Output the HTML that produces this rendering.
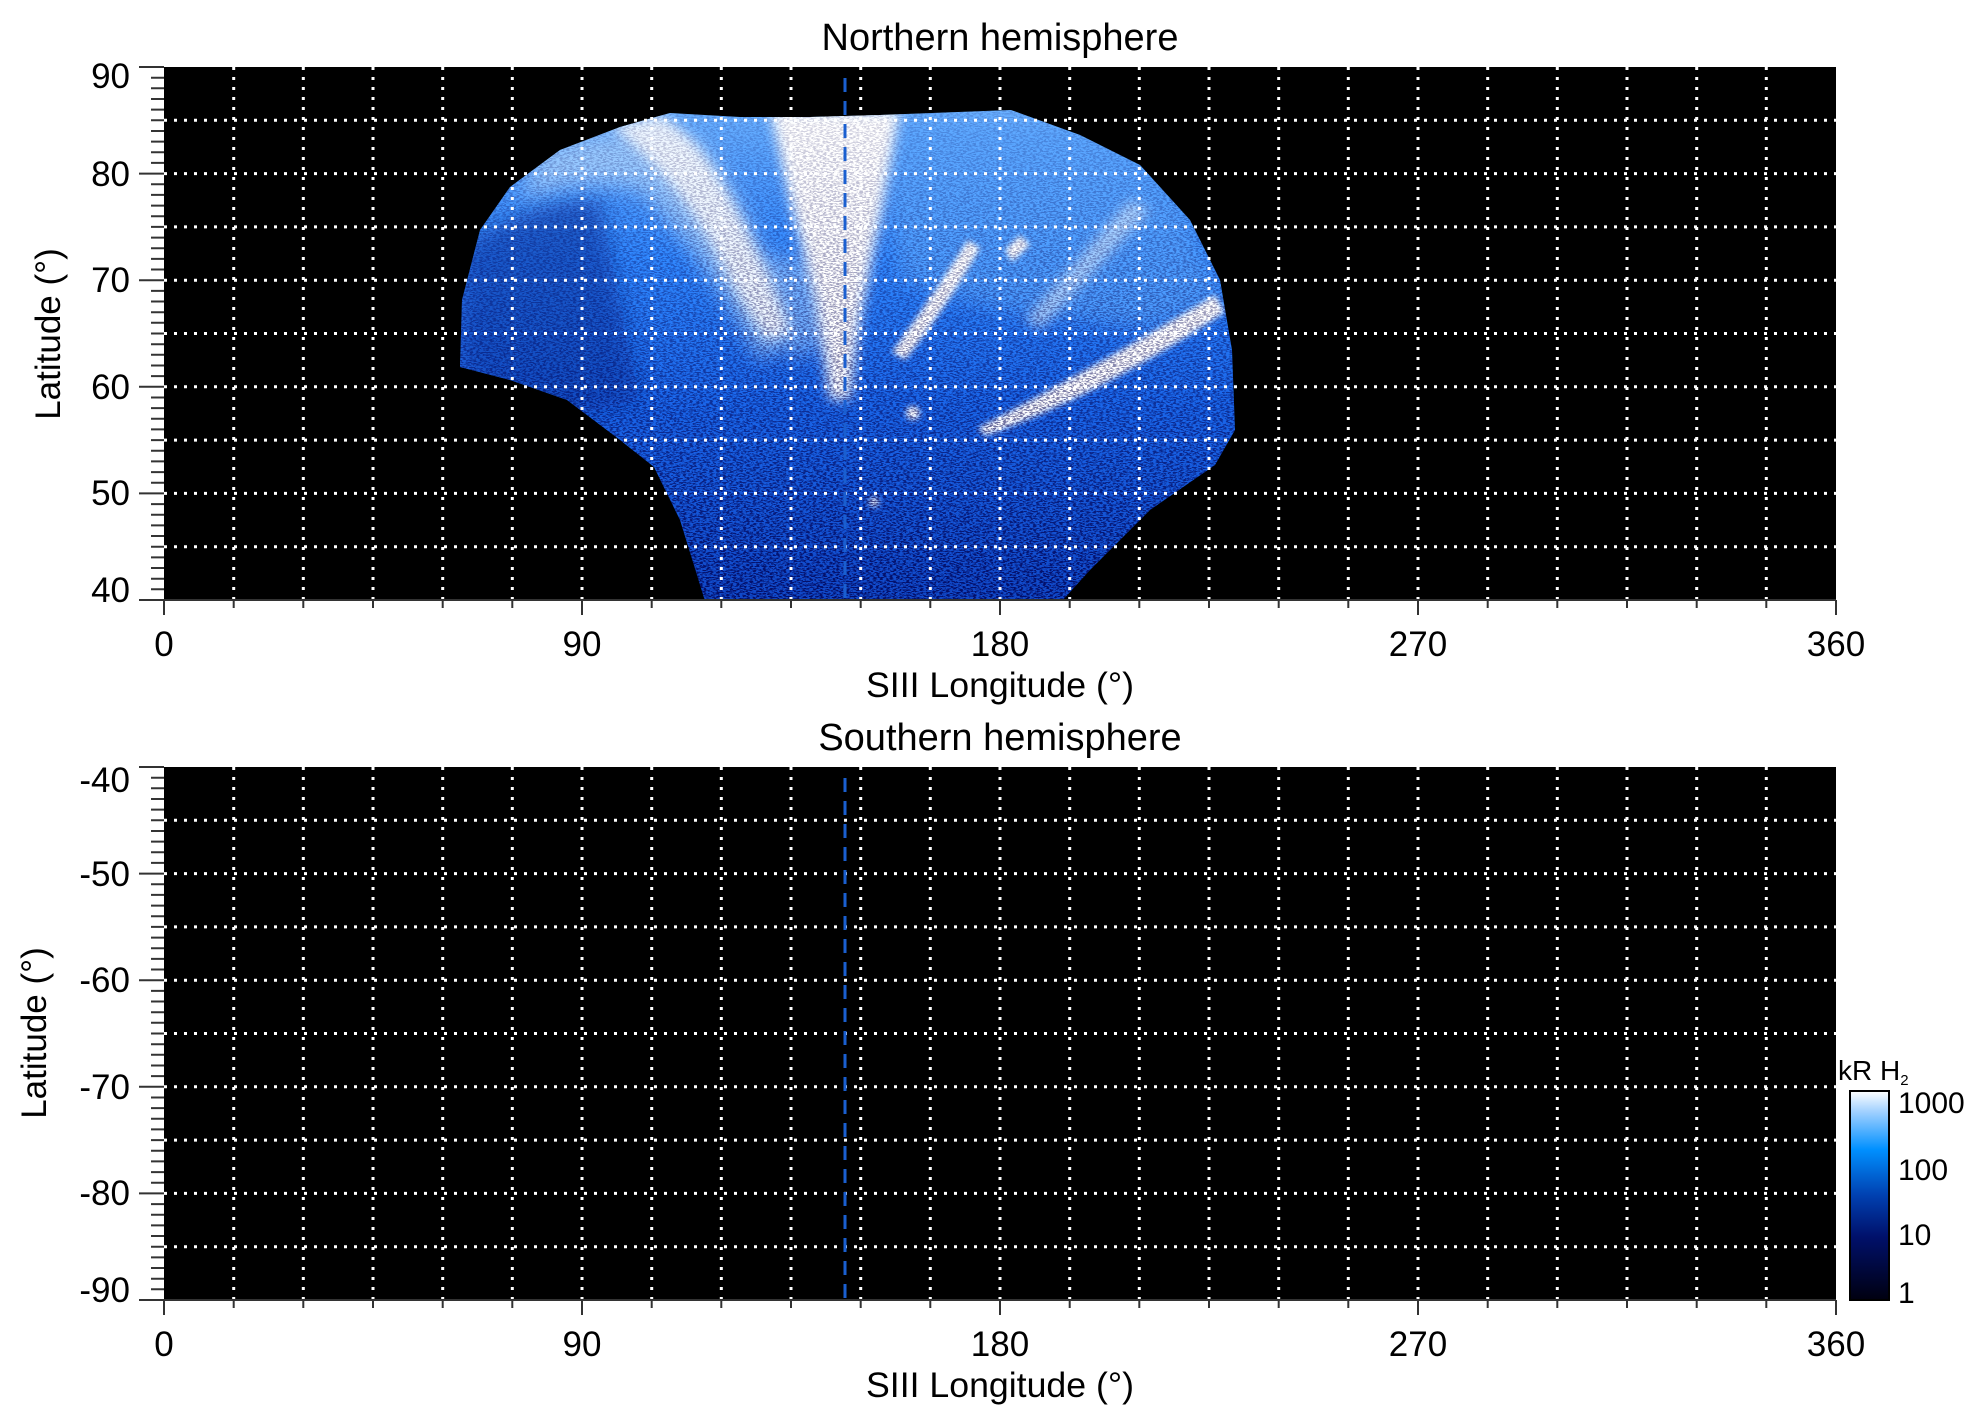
<!DOCTYPE html>
<html><head><meta charset="utf-8"><style>
html,body{margin:0;padding:0;background:#fff}
svg{display:block}
text{font-family:"Liberation Sans",Arial,sans-serif;fill:#000}
</style></head><body>
<svg width="1983" height="1423" viewBox="0 0 1983 1423" xmlns="http://www.w3.org/2000/svg">
<defs>
<linearGradient id="cb" x1="0" y1="1" x2="0" y2="0">
<stop offset="0" stop-color="#000010"/>
<stop offset="0.3" stop-color="#00106a"/>
<stop offset="0.5" stop-color="#0040b0"/>
<stop offset="0.72" stop-color="#0090ff"/>
<stop offset="0.9" stop-color="#a0d0ff"/>
<stop offset="1" stop-color="#ffffff"/>
</linearGradient>
<linearGradient id="aur" x1="0" y1="110" x2="0" y2="600" gradientUnits="userSpaceOnUse">
<stop offset="0" stop-color="#6ab0ff"/>
<stop offset="0.3" stop-color="#3088ff"/>
<stop offset="0.6" stop-color="#1a66ea"/>
<stop offset="1" stop-color="#1048c8"/>
</linearGradient>
<linearGradient id="nm" x1="0" y1="110" x2="0" y2="600" gradientUnits="userSpaceOnUse">
<stop offset="0" stop-color="#fff" stop-opacity="0.15"/>
<stop offset="0.5" stop-color="#fff" stop-opacity="0.45"/>
<stop offset="1" stop-color="#fff" stop-opacity="0.8"/>
</linearGradient>
<mask id="noiseMask"><rect x="0" y="0" width="1983" height="700" fill="url(#nm)"/></mask>
<filter id="noise" x="0" y="0" width="100%" height="100%">
<feTurbulence type="fractalNoise" baseFrequency="0.3 0.8" numOctaves="2" seed="3"/>
<feColorMatrix type="matrix" values="0 0 0 0 0  0 0 0 0 0  0 0 0 0 0.08  0 0 0 -9 4.8"/>
</filter>
<filter id="blur10"><feGaussianBlur stdDeviation="10"/></filter>
<filter id="blur6"><feGaussianBlur stdDeviation="6"/></filter>
<filter id="blur3"><feGaussianBlur stdDeviation="3"/></filter>
<clipPath id="ap"><polygon points="460,367 462,300 480,230 510,187 560,150 620,127 670,113 740,117 810,117 880,115 1011,110 1080,135 1140,165 1190,220 1220,280 1232,350 1235,430 1215,465 1150,510 1090,570 1062,601 705,601 680,520 654,467 620,440 567,400 510,380"/></clipPath>
<clipPath id="p1"><rect x="164" y="67" width="1672" height="533"/></clipPath>
</defs>

<rect x="164" y="67" width="1672" height="533" fill="#000"/>
<g clip-path="url(#p1)">
<g clip-path="url(#ap)">
<rect x="440" y="100" width="820" height="510" fill="url(#aur)"/>
<path d="M460,250 Q520,200 600,200 L640,400 L560,420 L460,370 Z" fill="#0c3aa8" opacity="0.6" filter="url(#blur10)"/>
<g filter="url(#blur10)">
<path d="M880,120 L1080,130 L1180,200 L1225,300 L1150,330 L1000,310 L900,280 Z" fill="#5aa5ff" opacity="0.7"/>
<path d="M540,150 Q620,120 700,140 Q760,220 790,340 L760,360 Q700,250 640,190 Q580,175 520,200 Z" fill="#a8d2ff" opacity="0.8"/>
<path d="M720,250 Q760,330 800,360 L840,330 L820,260 Z" fill="#9ccaff" opacity="0.6"/>
</g>
<g filter="url(#blur6)" fill="#fff">
<path d="M770,110 L900,110 L880,220 L860,320 L850,400 L830,400 L815,300 L790,200 Z"/>
<path d="M610,125 Q680,180 720,260 Q750,320 770,340 L790,330 Q760,250 720,180 Q690,130 660,115 Z" opacity="0.85"/>
<path d="M1130,200 L1150,210 L1040,330 L1025,320 Z" fill="#cfe6ff" opacity="0.7"/>
</g>
<g filter="url(#blur3)" fill="#fff">
<path d="M978,428 Q1090,370 1215,295 L1225,312 Q1100,395 985,436 Z"/>
<path d="M892,352 Q930,300 968,240 L980,248 Q945,310 905,360 Z"/>
<circle cx="913" cy="413" r="7"/>
<circle cx="874" cy="502" r="5"/>
<path d="M1005,250 L1020,235 L1030,245 L1012,262 Z"/>
</g>
<rect x="440" y="100" width="820" height="510" filter="url(#noise)" mask="url(#noiseMask)"/>
</g>
</g>
<g stroke="#fff" stroke-width="3" stroke-dasharray="3 7" fill="none">
<path d="M164,120.3H1836M164,173.6H1836M164,226.9H1836M164,280.2H1836M164,333.5H1836M164,386.8H1836M164,440.1H1836M164,493.4H1836M164,546.7H1836"/>
<path d="M233.7,67V600M303.3,67V600M373,67V600M442.7,67V600M512.3,67V600M582,67V600M651.7,67V600M721.3,67V600M791,67V600M860.7,67V600M930.3,67V600M1000,67V600M1069.7,67V600M1139.3,67V600M1209,67V600M1278.7,67V600M1348.3,67V600M1418,67V600M1487.7,67V600M1557.3,67V600M1627,67V600M1696.7,67V600M1766.3,67V600"/>
</g>
<line x1="845" y1="78" x2="845" y2="600" stroke="#1a5fd0" stroke-width="3" stroke-dasharray="14 9"/>

<rect x="164" y="767" width="1672" height="533" fill="#000"/>
<g stroke="#fff" stroke-width="3" stroke-dasharray="3 7" fill="none">
<path d="M164,820.3H1836M164,873.6H1836M164,926.9H1836M164,980.2H1836M164,1033.5H1836M164,1086.8H1836M164,1140.1H1836M164,1193.4H1836M164,1246.7H1836"/>
<path d="M233.7,767V1300M303.3,767V1300M373,767V1300M442.7,767V1300M512.3,767V1300M582,767V1300M651.7,767V1300M721.3,767V1300M791,767V1300M860.7,767V1300M930.3,767V1300M1000,767V1300M1069.7,767V1300M1139.3,767V1300M1209,767V1300M1278.7,767V1300M1348.3,767V1300M1418,767V1300M1487.7,767V1300M1557.3,767V1300M1627,767V1300M1696.7,767V1300M1766.3,767V1300"/>
</g>
<line x1="845" y1="778" x2="845" y2="1300" stroke="#1a5fd0" stroke-width="3" stroke-dasharray="14 9"/>

<g stroke="#333" stroke-width="2" fill="none" id="ticks">
<path d="M139,67H164M139,173.6H164M139,280.2H164M139,386.8H164M139,493.4H164M139,600H164"/>
<path d="M151,77.7H164M151,88.3H164M151,99H164M151,109.6H164M151,120.3H164M151,131H164M151,141.6H164M151,152.3H164M151,162.9H164M151,184.3H164M151,194.9H164M151,205.6H164M151,216.2H164M151,226.9H164M151,237.6H164M151,248.2H164M151,258.9H164M151,269.5H164M151,290.9H164M151,301.5H164M151,312.2H164M151,322.8H164M151,333.5H164M151,344.2H164M151,354.8H164M151,365.5H164M151,376.1H164M151,397.5H164M151,408.1H164M151,418.8H164M151,429.4H164M151,440.1H164M151,450.8H164M151,461.4H164M151,472.1H164M151,482.7H164M151,504.1H164M151,514.7H164M151,525.4H164M151,536H164M151,546.7H164M151,557.4H164M151,568H164M151,578.7H164M151,589.3H164"/>
<path d="M164,600H1836"/>
<path d="M164,600V615M582,600V615M1000,600V615M1418,600V615M1836,600V615M233.7,600V608M303.3,600V608M373,600V608M442.7,600V608M512.3,600V608M651.7,600V608M721.3,600V608M791,600V608M860.7,600V608M930.3,600V608M1069.7,600V608M1139.3,600V608M1209,600V608M1278.7,600V608M1348.3,600V608M1487.7,600V608M1557.3,600V608M1627,600V608M1696.7,600V608M1766.3,600V608"/>
</g>
<use href="#ticks" transform="translate(0,700)"/>

<g font-size="35" text-anchor="end">
<text x="130" y="88">90</text><text x="130" y="186">80</text><text x="130" y="292">70</text><text x="130" y="399">60</text><text x="130" y="505">50</text><text x="130" y="602">40</text>
<text x="130" y="792">-40</text><text x="130" y="886">-50</text><text x="130" y="992">-60</text><text x="130" y="1099">-70</text><text x="130" y="1205">-80</text><text x="130" y="1302">-90</text>
</g>
<g font-size="35" text-anchor="middle">
<text x="164" y="656">0</text><text x="582" y="656">90</text><text x="1000" y="656">180</text><text x="1418" y="656">270</text><text x="1836" y="656">360</text>
<text x="164" y="1356">0</text><text x="582" y="1356">90</text><text x="1000" y="1356">180</text><text x="1418" y="1356">270</text><text x="1836" y="1356">360</text>
<text x="1000" y="697" textLength="268" lengthAdjust="spacingAndGlyphs">SIII Longitude (°)</text>
<text x="1000" y="1397" textLength="268" lengthAdjust="spacingAndGlyphs">SIII Longitude (°)</text>
</g>
<g font-size="38" text-anchor="middle">
<text x="1000" y="50">Northern hemisphere</text>
<text x="1000" y="750">Southern hemisphere</text>
</g>
<text font-size="35" text-anchor="middle" transform="translate(60,334) rotate(-90)">Latitude (°)</text>
<text font-size="35" text-anchor="middle" transform="translate(46,1033) rotate(-90)">Latitude (°)</text>

<rect x="1850" y="1091" width="39" height="209" fill="url(#cb)" stroke="#000" stroke-width="2"/>
<text x="1838" y="1080" font-size="28">kR H<tspan font-size="15" dy="5">2</tspan></text>
<g font-size="30">
<text x="1898" y="1113">1000</text>
<text x="1898" y="1180">100</text>
<text x="1898" y="1245">10</text>
<text x="1898" y="1303">1</text>
</g>
</svg>
</body></html>
